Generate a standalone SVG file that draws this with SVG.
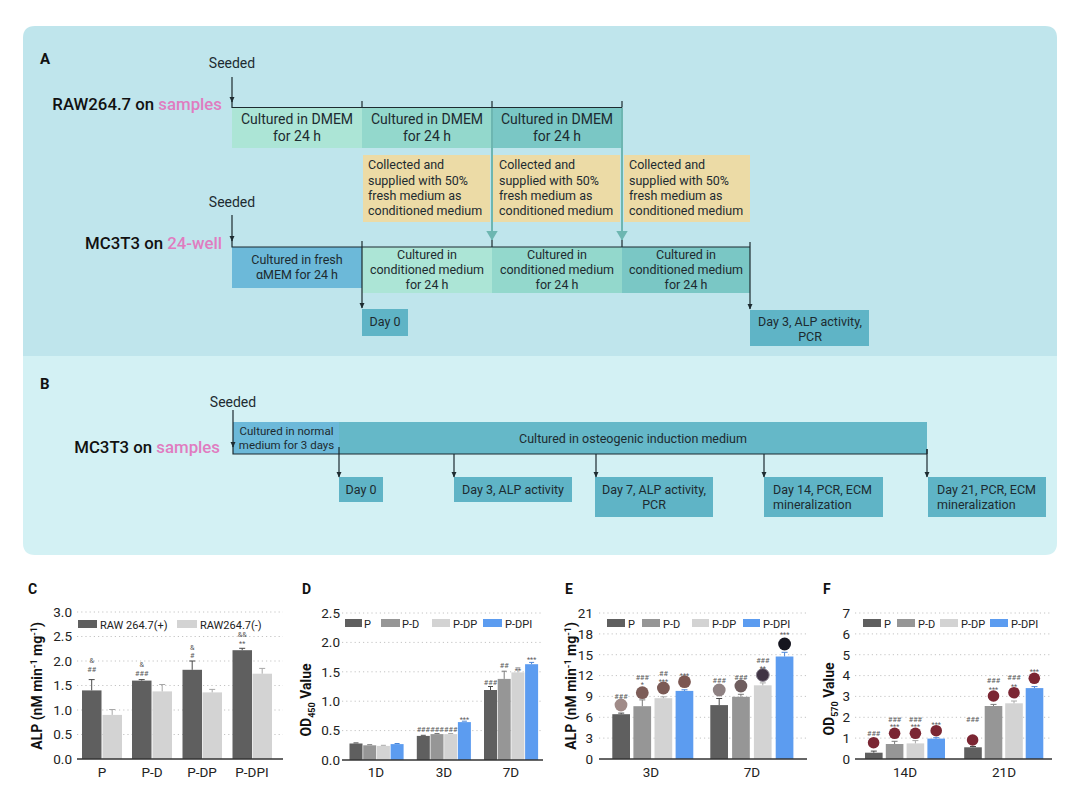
<svg xmlns="http://www.w3.org/2000/svg" width="1080" height="788" viewBox="0 0 1080 788">
<style>
text{font-family:Roboto,"Liberation Sans",sans-serif;fill:#1d2b30}
.lbl{font-size:16.8px;font-weight:500;fill:#111}
.pink{fill:#e07cc0}
.pl{font-size:15px;font-weight:700;fill:#111}
.seed{font-size:14px;text-anchor:middle}
.c14{font-size:14px;text-anchor:middle}
.c12{font-size:12.5px;text-anchor:middle}
.l12{font-size:12.5px}
.c11{font-size:11.5px;text-anchor:middle}
.ln{stroke:#1d2b30;stroke-width:1.2;fill:none}
.arr{stroke:#1d2b30;stroke-width:1.2;fill:none;marker-end:url(#ah)}
.tarr{stroke:#6db6b1;stroke-width:2;fill:none;marker-end:url(#th)}
.g1{fill:#ace5d6}.g2{fill:#93d8cc}.g3{fill:#7ac7c5}.bl{fill:#6cb9d9}.dy{fill:#5fb4c6}.ye{fill:#ecdba6}.os{fill:#65b8c8}
.grid{stroke:#c4c4c4;stroke-width:1;stroke-dasharray:1.2 3}
.ax{stroke:#333;stroke-width:1.3}
.tk{font-size:13.5px;text-anchor:end;fill:#222}
.xl{font-size:13.5px;text-anchor:middle;fill:#222}
.yl{font-size:14px;font-weight:700;text-anchor:middle;fill:#111}
.cl{font-size:14px;font-weight:700;fill:#111}
.lg{font-size:11px;fill:#222}
.an{font-size:7.2px;text-anchor:middle;fill:#5a5a5a}
.bP{fill:#5f5f5f}.bD{fill:#969696}.bDP{fill:#d3d3d3}.bI{fill:#5c9cf0}
.eP{stroke:#4a4a4a;stroke-width:1;fill:none}.eD{stroke:#7a7a7a;stroke-width:1;fill:none}.eDP{stroke:#a8a8a8;stroke-width:1;fill:none}.eI{stroke:#4a86d8;stroke-width:1;fill:none}
.wf{fill:#7b2633}
</style>
<defs>
<marker id="ah" viewBox="0 0 6 6" refX="5.5" refY="3" markerWidth="6" markerHeight="6" markerUnits="userSpaceOnUse" orient="auto"><path d="M0,0.3 L6,3 L0,5.7 z" fill="#1d2b30"/></marker>
<marker id="th" viewBox="0 0 10 12" refX="9.5" refY="6" markerWidth="10" markerHeight="12" markerUnits="userSpaceOnUse" orient="auto"><path d="M0,0 L10,6 L0,12 z" fill="#6db6b1"/></marker>
</defs>
<rect width="1080" height="788" fill="#ffffff"/>
<path d="M23,38 Q23,26 35,26 H1045 Q1057,26 1057,38 V356 H23 Z" fill="#bfe5ec"/>
<path d="M23,356 H1057 V543 Q1057,555 1045,555 H35 Q23,555 23,543 Z" fill="#d3f1f4"/>
<text x="40" y="64" class="pl">A</text>
<text x="40" y="389" class="pl">B</text>

<!-- Panel A row 1 -->
<g id="label-raw"><text x="222" y="110" class="lbl" text-anchor="end">RAW264.7 on <tspan class="pink">samples</tspan></text></g>
<g id="seeded-a1"><text x="232" y="68" class="seed">Seeded</text></g>
<g id="a-dmem1"><rect x="232" y="107" width="130" height="41" class="g1"/><text x="297" y="124" class="c14">Cultured in DMEM</text><text x="297" y="141" class="c14">for 24 h</text></g>
<g id="a-dmem2"><rect x="362" y="107" width="130" height="41" class="g2"/><text x="427" y="124" class="c14">Cultured in DMEM</text><text x="427" y="141" class="c14">for 24 h</text></g>
<g id="a-dmem3"><rect x="492" y="107" width="130" height="41" class="g3"/><text x="557" y="124" class="c14">Cultured in DMEM</text><text x="557" y="141" class="c14">for 24 h</text></g>
<g id="a-col1"><rect x="363" y="155" width="127" height="67" class="ye"/><text x="368" y="169" class="l12">Collected and</text><text x="368" y="185" class="l12">supplied with 50%</text><text x="368" y="200" class="l12">fresh medium as</text><text x="368" y="215" class="l12">conditioned medium</text></g>
<g id="a-col2"><rect x="493" y="155" width="127" height="67" class="ye"/><text x="499" y="169" class="l12">Collected and</text><text x="499" y="185" class="l12">supplied with 50%</text><text x="499" y="200" class="l12">fresh medium as</text><text x="499" y="215" class="l12">conditioned medium</text></g>
<g id="a-col3"><rect x="624" y="155" width="126" height="67" class="ye"/><text x="629" y="169" class="l12">Collected and</text><text x="629" y="185" class="l12">supplied with 50%</text><text x="629" y="200" class="l12">fresh medium as</text><text x="629" y="215" class="l12">conditioned medium</text></g>

<!-- Panel A row 2 -->
<g id="label-mc-24"><text x="222" y="249" class="lbl" text-anchor="end">MC3T3 on <tspan class="pink">24-well</tspan></text></g>
<g id="seeded-a2"><text x="232" y="207" class="seed">Seeded</text></g>
<g id="a-fresh"><rect x="232" y="247" width="130" height="41" class="bl"/><text x="297" y="264" class="c12">Cultured in fresh</text><text x="297" y="279" class="c12">αMEM for 24 h</text></g>
<g id="a-cm1"><rect x="362" y="247" width="130" height="46" class="g1"/><text x="427" y="259" class="c12">Cultured in</text><text x="427" y="274" class="c12">conditioned medium</text><text x="427" y="289" class="c12">for 24 h</text></g>
<g id="a-cm2"><rect x="492" y="247" width="130" height="46" class="g2"/><text x="557" y="259" class="c12">Cultured in</text><text x="557" y="274" class="c12">conditioned medium</text><text x="557" y="289" class="c12">for 24 h</text></g>
<g id="a-cm3"><rect x="622" y="247" width="128" height="46" class="g3"/><text x="686" y="259" class="c12">Cultured in</text><text x="686" y="274" class="c12">conditioned medium</text><text x="686" y="289" class="c12">for 24 h</text></g>
<g id="a-day0"><rect x="362" y="309" width="46" height="27" class="dy"/><text x="385" y="326" class="c12">Day 0</text></g>
<g id="a-day3"><rect x="750" y="310" width="119" height="36" class="dy"/><text x="810" y="326" class="c12">Day 3, ALP activity,</text><text x="810" y="341" class="c12">PCR</text></g>

<!-- Panel B -->
<g id="label-mc-samples"><text x="220" y="453" class="lbl" text-anchor="end">MC3T3 on <tspan class="pink">samples</tspan></text></g>
<g id="seeded-b"><text x="233" y="407" class="seed">Seeded</text></g>
<g id="b-normal"><rect x="233" y="422" width="106" height="32" class="bl"/><text x="286.5" y="435" class="c11">Cultured in normal</text><text x="286.5" y="448.5" class="c11">medium for 3 days</text></g>
<g id="b-osteo"><rect x="339" y="422" width="588" height="32" class="os"/><text x="633" y="442.5" class="c12">Cultured in osteogenic induction medium</text></g>
<g id="b-day0"><rect x="339" y="477" width="44" height="25" class="dy"/><text x="361" y="493.5" class="c12">Day 0</text></g>
<g id="b-day3"><rect x="454" y="477" width="118" height="25" class="dy"/><text x="513" y="493.5" class="c12">Day 3, ALP activity</text></g>
<g id="b-day7"><rect x="595" y="477" width="118" height="40" class="dy"/><text x="654" y="494" class="c12">Day 7, ALP activity,</text><text x="654" y="509" class="c12">PCR</text></g>
<g id="b-day14"><rect x="764" y="477" width="119" height="40" class="dy"/><text x="773" y="494" class="l12">Day 14, PCR, ECM</text><text x="773" y="509" class="l12">mineralization</text></g>
<g id="b-day21"><rect x="928" y="477" width="118" height="40" class="dy"/><text x="937" y="494" class="l12">Day 21, PCR, ECM</text><text x="937" y="509" class="l12">mineralization</text></g>

<!-- Connectors -->
<g id="connectors">
<path class="arr" d="M232,77 V102"/>
<path class="ln" d="M232,101 V107.5 H622 M362,101 V107.5 M492,101 V107.5 M622,101 V107.5"/>
<path class="tarr" d="M492,108 V240"/>
<path class="tarr" d="M622,108 V240"/>
<path class="arr" d="M232,215 V241"/>
<path class="ln" d="M232,240 V247 H750 M492,240 V247 M622,240 V247"/>
<path class="arr" d="M362,241 V308"/>
<path class="arr" d="M750,242 V309"/>
<path class="arr" d="M233,410 V447"/>
<path class="ln" d="M233,446 V454 H927 M927,449 V454"/>
<path class="arr" d="M339,447 V477"/>
<path class="arr" d="M454,454 V477"/>
<path class="arr" d="M596,454 V477"/>
<path class="arr" d="M764,454 V477"/>
<path class="arr" d="M927,449 V477"/>
</g>

<!-- Chart C -->
<g id="chart-c">
<text x="28" y="594" class="cl">C</text>
<path class="grid" d="M77,612 H283 M77,636.5 H283 M77,661 H283 M77,685.5 H283 M77,710 H283 M77,734.5 H283"/>
<text x="72" y="616.8" class="tk">3.0</text><text x="72" y="641.3" class="tk">2.5</text><text x="72" y="665.8" class="tk">2.0</text><text x="72" y="690.3" class="tk">1.5</text><text x="72" y="714.8" class="tk">1.0</text><text x="72" y="739.3" class="tk">0.5</text><text x="72" y="763.8" class="tk">0.0</text>
<text transform="translate(41.5,686) rotate(-90)" class="yl">ALP (nM min<tspan dy="-5" font-size="9">-1</tspan><tspan dy="5"> mg</tspan><tspan dy="-5" font-size="9">-1</tspan><tspan dy="5">)</tspan></text>
<rect x="78" y="620" width="19" height="8" class="bP"/><text x="100" y="628.5" class="lg" font-size="11.7">RAW 264.7(+)</text>
<rect x="177" y="620" width="20" height="8" class="bDP"/><text x="200" y="628.5" class="lg" font-size="11.7">RAW264.7(-)</text>
<rect x="82" y="690.4" width="19.5" height="68.6" class="bP"/>
<rect x="102.5" y="714.9" width="19.5" height="44.1" class="bDP"/>
<rect x="132" y="680.6" width="19.5" height="78.4" class="bP"/>
<rect x="152.5" y="691.4" width="19.5" height="67.6" class="bDP"/>
<rect x="182.5" y="669.8" width="19.5" height="89.2" class="bP"/>
<rect x="202.5" y="692.4" width="19.5" height="66.6" class="bDP"/>
<rect x="232.5" y="650.2" width="19.5" height="108.8" class="bP"/>
<rect x="252.5" y="673.7" width="19.5" height="85.3" class="bDP"/>
<path class="eP" d="M88.7,679.6 H94.7 M91.7,679.6 V690.4 M138.7,679.6 H144.7 M141.7,679.6 V680.6 M189.2,661 H195.2 M192.2,661 V669.8 M239.2,648.3 H245.2 M242.2,648.3 V650.2"/>
<path class="eDP" d="M109.2,709.5 H115.2 M112.2,709.5 V714.9 M159.2,684.5 H165.2 M162.2,684.5 V691.4 M209.2,689.4 H215.2 M212.2,689.4 V692.4 M259.2,668.4 H265.2 M262.2,668.4 V673.7"/>
<text x="91.7" y="662.6" class="an">&amp;</text><text x="91.7" y="671.6" class="an">##</text>
<text x="141.7" y="666.6" class="an">&amp;</text><text x="141.7" y="675.6" class="an">###</text>
<text x="192.2" y="649.6" class="an">&amp;</text><text x="192.2" y="657.6" class="an">#</text>
<text x="242.2" y="637" class="an">&amp;&amp;</text><text x="242.2" y="646" class="an">**</text>
<line x1="77" y1="759" x2="283" y2="759" class="ax"/>
<text x="102" y="777" class="xl">P</text><text x="152" y="777" class="xl">P-D</text><text x="202" y="777" class="xl">P-DP</text><text x="252" y="777" class="xl">P-DPI</text>
</g>

<!-- Chart D -->
<g id="chart-d">
<text x="302" y="594" class="cl">D</text>
<path class="grid" d="M342,613 H543 M342,642.4 H543 M342,671.8 H543 M342,701.2 H543 M342,730.6 H543"/>
<text x="340" y="617.8" class="tk">2.5</text><text x="340" y="647.2" class="tk">2.0</text><text x="340" y="676.6" class="tk">1.5</text><text x="340" y="706" class="tk">1.0</text><text x="340" y="735.4" class="tk">0.5</text><text x="340" y="764.8" class="tk">0.0</text>
<text transform="translate(310.5,700) rotate(-90)" class="yl">OD<tspan dy="4" font-size="9">450</tspan><tspan dy="-4"> Value</tspan></text>
<rect x="345" y="619" width="17" height="8" class="bP"/><text x="364" y="627.5" class="lg">P</text>
<rect x="381" y="619" width="19" height="8" class="bD"/><text x="402" y="627.5" class="lg">P-D</text>
<rect x="432" y="619" width="18" height="8" class="bDP"/><text x="453" y="627.5" class="lg">P-DP</text>
<rect x="483" y="619" width="19" height="8" class="bI"/><text x="505" y="627.5" class="lg">P-DPI</text>
<rect x="349.5" y="743.5" width="13" height="16.5" class="bP"/>
<rect x="363.2" y="745.3" width="13" height="14.7" class="bD"/>
<rect x="376.9" y="745.9" width="13" height="14.1" class="bDP"/>
<rect x="390.6" y="744.1" width="13" height="15.9" class="bI"/>
<rect x="416.8" y="735.9" width="13" height="24.1" class="bP"/>
<rect x="430.5" y="734.1" width="13" height="25.9" class="bD"/>
<rect x="444.2" y="734.1" width="13" height="25.9" class="bDP"/>
<rect x="457.9" y="722.1" width="13" height="37.9" class="bI"/>
<rect x="484" y="690" width="13" height="70" class="bP"/>
<rect x="497.7" y="678.9" width="13" height="81.1" class="bD"/>
<rect x="511.4" y="672.4" width="13" height="87.6" class="bDP"/>
<rect x="525.1" y="664.2" width="13" height="95.8" class="bI"/>
<path class="eP" d="M353.5,742.9 H358.5 M420.8,735.3 H425.8 M488,686.5 H493 M490.5,686.5 V690"/>
<path class="eD" d="M367.2,744.7 H372.2 M434.5,733.5 H439.5 M501.7,671.2 H506.7 M504.2,671.2 V678.9"/>
<path class="eDP" d="M380.9,745.3 H385.9 M448.2,733.5 H453.2 M515.4,667.7 H520.4 M517.9,667.7 V672.4"/>
<path class="eI" d="M394.6,743.5 H399.6 M461.9,721.2 H466.9 M529.1,662.4 H534.1 M531.6,662.4 V664.2"/>
<text x="423.3" y="731.6" class="an">###</text><text x="437" y="731.6" class="an">###</text><text x="450.7" y="731.6" class="an">###</text><text x="464.4" y="722.4" class="an">***</text>
<text x="490.5" y="685.3" class="an">###</text><text x="504.2" y="667.6" class="an">##</text><text x="517.9" y="673.4" class="an">**</text><text x="531.6" y="662.4" class="an">***</text>
<line x1="342" y1="760" x2="543" y2="760" class="ax"/>
<text x="376" y="777" class="xl">1D</text><text x="444" y="777" class="xl">3D</text><text x="511" y="777" class="xl">7D</text>
</g>

<!-- Chart E -->
<g id="chart-e">
<text x="565" y="594" class="cl">E</text>
<path class="grid" d="M599,613 H807 M599,633.9 H807 M599,654.7 H807 M599,675.6 H807 M599,696.4 H807 M599,717.3 H807 M599,738.1 H807"/>
<text x="593" y="617.8" class="tk">21</text><text x="593" y="638.7" class="tk">18</text><text x="593" y="659.5" class="tk">15</text><text x="593" y="680.4" class="tk">12</text><text x="593" y="701.2" class="tk">9</text><text x="593" y="722.1" class="tk">6</text><text x="593" y="742.9" class="tk">3</text><text x="593" y="763.8" class="tk">0</text>
<text transform="translate(576,686) rotate(-90)" class="yl">ALP (nM min<tspan dy="-5" font-size="9">-1</tspan><tspan dy="5"> mg</tspan><tspan dy="-5" font-size="9">-1</tspan><tspan dy="5">)</tspan></text>
<rect x="607" y="619" width="18" height="8" class="bP"/><text x="628" y="627.5" class="lg">P</text>
<rect x="642" y="619" width="18" height="8" class="bD"/><text x="663" y="627.5" class="lg">P-D</text>
<rect x="692" y="619" width="17" height="8" class="bDP"/><text x="712" y="627.5" class="lg">P-DP</text>
<rect x="743" y="619" width="17" height="8" class="bI"/><text x="763" y="627.5" class="lg">P-DPI</text>
<rect x="612.3" y="714.2" width="17.7" height="44.8" class="bP"/>
<rect x="633.4" y="706.2" width="17.7" height="52.8" class="bD"/>
<rect x="654.5" y="698.2" width="17.7" height="60.8" class="bDP"/>
<rect x="675.6" y="690.9" width="17.7" height="68.1" class="bI"/>
<rect x="710.3" y="705.1" width="17.7" height="53.9" class="bP"/>
<rect x="732.1" y="696.8" width="17.7" height="62.2" class="bD"/>
<rect x="753.9" y="685.3" width="17.7" height="73.7" class="bDP"/>
<rect x="775.7" y="656.5" width="17.7" height="102.5" class="bI"/>
<path class="eP" d="M618.2,713.1 H624.2 M621.2,713.1 V714.2 M716.2,698.5 H722.2 M719.2,698.5 V705.1"/>
<path class="eD" d="M639.3,699.9 H645.3 M642.3,699.9 V706.2 M737.9,694.3 H743.9 M740.9,694.3 V696.8"/>
<path class="eDP" d="M660.4,696.8 H666.4 M663.4,696.8 V698.2 M759.8,682.9 H765.8 M762.8,682.9 V685.3"/>
<path class="eI" d="M681.5,689.8 H687.5 M684.5,689.8 V690.9 M781.6,652.3 H787.6 M784.6,652.3 V656.5"/>
<circle cx="621" cy="705" r="6.4" fill="#a08b88"/>
<circle cx="642.3" cy="692.7" r="6.4" fill="#7d5d58"/>
<circle cx="663.4" cy="688" r="6.4" fill="#7b5a55"/>
<circle cx="684.5" cy="681.7" r="6.4" fill="#7c5752"/>
<circle cx="719.2" cy="690" r="6.4" fill="#8e8182"/>
<circle cx="740.9" cy="686" r="6.4" fill="#6f5e5f"/>
<circle cx="762.8" cy="675" r="6.4" fill="#403444" stroke="#8a8490" stroke-width="1"/>
<circle cx="784.6" cy="644" r="6.4" fill="#15151f"/>
<text x="621" y="698.6" class="an">###</text>
<text x="642.3" y="679.6" class="an">###</text><text x="642.3" y="687.4" class="an">*</text>
<text x="663.4" y="675.6" class="an">##</text><text x="663.4" y="684.4" class="an">***</text>
<text x="684.5" y="678.4" class="an">***</text>
<text x="719.2" y="682.6" class="an">###</text>
<text x="740.9" y="679.6" class="an">###</text>
<text x="762.8" y="662.6" class="an">###</text><text x="762.8" y="671.1" class="an">**</text>
<text x="784.6" y="637.4" class="an">***</text>
<line x1="599" y1="759" x2="807" y2="759" class="ax"/>
<text x="651" y="777" class="xl">3D</text><text x="752" y="777" class="xl">7D</text>
</g>

<!-- Chart F -->
<g id="chart-f">
<text x="823" y="594" class="cl">F</text>
<path class="grid" d="M855,613 H1052 M855,633.9 H1052 M855,654.7 H1052 M855,675.6 H1052 M855,696.4 H1052 M855,717.3 H1052 M855,738.1 H1052"/>
<text x="850" y="617.8" class="tk">7</text><text x="850" y="638.7" class="tk">6</text><text x="850" y="659.5" class="tk">5</text><text x="850" y="680.4" class="tk">4</text><text x="850" y="701.2" class="tk">3</text><text x="850" y="722.1" class="tk">2</text><text x="850" y="742.9" class="tk">1</text><text x="850" y="763.8" class="tk">0</text>
<text transform="translate(834,699) rotate(-90)" class="yl">OD<tspan dy="4" font-size="9">570</tspan><tspan dy="-4"> Value</tspan></text>
<rect x="863" y="619" width="18" height="8" class="bP"/><text x="884" y="627.5" class="lg">P</text>
<rect x="897" y="619" width="18" height="8" class="bD"/><text x="918" y="627.5" class="lg">P-D</text>
<rect x="940" y="619" width="18" height="8" class="bDP"/><text x="961" y="627.5" class="lg">P-DP</text>
<rect x="990" y="619" width="18" height="8" class="bI"/><text x="1011" y="627.5" class="lg">P-DPI</text>
<rect x="865" y="752.7" width="17.6" height="6.3" class="bP"/>
<rect x="885.8" y="744" width="17.6" height="15" class="bD"/>
<rect x="906.6" y="743.4" width="17.6" height="15.6" class="bDP"/>
<rect x="927.4" y="738.6" width="17.6" height="20.4" class="bI"/>
<rect x="964.2" y="747.3" width="17.6" height="11.7" class="bP"/>
<rect x="984.7" y="706" width="17.6" height="53" class="bD"/>
<rect x="1005.2" y="703.3" width="17.6" height="55.7" class="bDP"/>
<rect x="1025.7" y="688.1" width="17.6" height="70.9" class="bI"/>
<path class="eP" d="M870.8,751.1 H876.8 M873.8,751.1 V752.7 M970,746.5 H976 M973,746.5 V747.3"/>
<path class="eD" d="M891.6,741.3 H897.6 M894.6,741.3 V744 M990.5,704.4 H996.5 M993.5,704.4 V706"/>
<path class="eDP" d="M912.4,740.6 H918.4 M915.4,740.6 V743.4 M1011,701 H1017 M1014,701 V703.3"/>
<path class="eI" d="M933.2,737.7 H939.2 M936.2,737.7 V738.6 M1031.5,686.6 H1037.5 M1034.5,686.6 V688.1"/>
<circle cx="873.6" cy="742.7" r="5.8" class="wf"/>
<circle cx="894.6" cy="733.3" r="5.8" class="wf"/>
<circle cx="915.4" cy="733.3" r="5.8" class="wf"/>
<circle cx="936.2" cy="730.7" r="5.8" class="wf"/>
<circle cx="972.6" cy="740" r="5.8" class="wf"/>
<circle cx="993.5" cy="696" r="5.8" class="wf"/>
<circle cx="1014" cy="692.7" r="5.8" class="wf"/>
<circle cx="1034.3" cy="678.3" r="5.8" class="wf"/>
<text x="873.6" y="735.9" class="an">###</text>
<text x="894.6" y="721.6" class="an">###</text><text x="894.6" y="729.1" class="an">***</text>
<text x="915.4" y="721.6" class="an">###</text><text x="915.4" y="729.1" class="an">***</text>
<text x="936.2" y="727.1" class="an">***</text>
<text x="972.6" y="721.9" class="an">###</text>
<text x="993.5" y="683.3" class="an">###</text><text x="993.5" y="691.7" class="an">***</text>
<text x="1014" y="679.9" class="an">###</text><text x="1014" y="688.7" class="an">**</text>
<text x="1034.3" y="674.4" class="an">***</text>
<line x1="855" y1="759" x2="1052" y2="759" class="ax"/>
<text x="905" y="777" class="xl">14D</text><text x="1004" y="777" class="xl">21D</text>
</g>
</svg>
